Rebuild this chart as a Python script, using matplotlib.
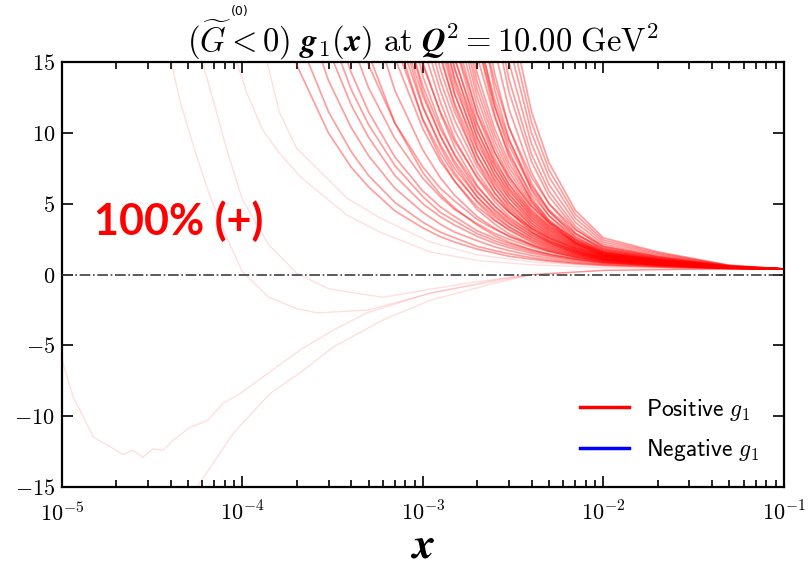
import numpy as np
import matplotlib
matplotlib.use("Agg")
import matplotlib.pyplot as plt
from matplotlib.lines import Line2D
from matplotlib.ticker import FuncFormatter, LogLocator, MultipleLocator, NullFormatter

plt.rcParams['mathtext.fontset'] = 'cm'

# shared x grid for the main bundle of replicas
x_grid = [1e-4, 2e-4, 3e-4, 4e-4, 5e-4, 7e-4, 1e-3, 1.25e-3, 1.5e-3, 2e-3, 2.5e-3,
          3e-3, 4e-3, 5e-3, 7e-3, 1e-2, 2e-2, 5e-2, 1e-1]

# g1(x) replicas (values above 15 leave the frame)
g1_replicas = [
    [29.3, 14.8, 10.0, 7.6, 6.2, 4.5, 3.3, 2.68, 2.3, 1.8, 1.53, 1.3, 1.09, 0.95, 0.78, 0.66, 0.54, 0.43, 0.40],
    [33.7, 17.0, 11.5, 8.7, 7.0, 5.1, 3.7, 3.0, 2.6, 2.0, 1.70, 1.48, 1.20, 1.03, 0.84, 0.70, 0.57, 0.44, 0.40],
    [40.4, 20.3, 13.7, 10.4, 8.4, 6.1, 4.4, 3.56, 3.0, 2.4, 1.96, 1.7, 1.36, 1.16, 0.93, 0.76, 0.60, 0.44, 0.40],
    [47.0, 23.7, 15.9, 12.0, 9.7, 7.0, 5.0, 4.09, 3.5, 2.7, 2.22, 1.9, 1.52, 1.29, 1.02, 0.82, 0.63, 0.45, 0.40],
    [51.5, 25.9, 17.4, 13.1, 10.6, 7.7, 5.5, 4.4, 3.8, 2.9, 2.39, 2.05, 1.63, 1.37, 1.08, 0.86, 0.65, 0.46, 0.40],
    [55.9, 28.1, 18.9, 14.3, 11.5, 8.3, 5.9, 4.79, 4.1, 3.1, 2.57, 2.2, 1.74, 1.46, 1.14, 0.90, 0.68, 0.46, 0.40],
    [64.8, 32.5, 21.8, 16.5, 13.2, 9.6, 6.8, 5.49, 4.6, 3.6, 2.91, 2.5, 1.95, 1.62, 1.26, 0.98, 0.72, 0.47, 0.40],
    [72.6, 36.4, 24.4, 18.4, 14.8, 10.7, 7.6, 6.1, 5.2, 3.9, 3.21, 2.73, 2.14, 1.77, 1.36, 1.05, 0.76, 0.48, 0.40],
    [97.0, 44.0, 27.7, 20.0, 15.6, 10.7, 7.2, 5.67, 4.7, 3.5, 2.76, 2.3, 1.76, 1.44, 1.10, 0.85, 0.65, 0.45, 0.40],
    [118, 53.7, 33.8, 24.4, 18.9, 13.0, 8.8, 6.84, 5.6, 4.1, 3.28, 2.7, 2.06, 1.67, 1.25, 0.95, 0.70, 0.47, 0.40],
    [140, 63.4, 39.9, 28.7, 22.3, 15.3, 10.3, 8.0, 6.6, 4.8, 3.81, 3.2, 2.36, 1.90, 1.41, 1.05, 0.76, 0.48, 0.40],
    [151, 68.2, 42.9, 30.9, 24.0, 16.4, 11.0, 8.6, 7.0, 5.2, 4.07, 3.36, 2.51, 2.02, 1.49, 1.10, 0.79, 0.48, 0.40],
    [161, 73.1, 45.9, 33.1, 25.7, 17.6, 11.8, 9.2, 7.5, 5.5, 4.33, 3.6, 2.67, 2.13, 1.56, 1.15, 0.81, 0.49, 0.40],
    [172, 77.9, 49.0, 35.3, 27.4, 18.7, 12.6, 9.8, 8.0, 5.8, 4.59, 3.78, 2.82, 2.25, 1.64, 1.20, 0.84, 0.50, 0.40],
    [183, 82.8, 52.0, 37.5, 29.0, 19.9, 13.3, 10.3, 8.5, 6.2, 4.85, 4.0, 2.97, 2.36, 1.72, 1.25, 0.87, 0.50, 0.40],
    [205, 92.5, 58.1, 41.8, 32.4, 22.2, 14.8, 11.5, 9.4, 6.9, 5.38, 4.42, 3.27, 2.59, 1.87, 1.35, 0.92, 0.51, 0.40],
    [209, 85.4, 50.4, 34.9, 26.2, 17.1, 10.9, 8.25, 6.6, 4.6, 3.57, 2.9, 2.11, 1.67, 1.21, 0.90, 0.68, 0.46, 0.40],
    [230, 93.9, 55.4, 38.4, 28.8, 18.7, 11.9, 9.0, 7.2, 5.1, 3.88, 3.14, 2.28, 1.80, 1.29, 0.95, 0.70, 0.47, 0.40],
    [251, 102, 60.4, 41.8, 31.4, 20.4, 12.9, 9.8, 7.8, 5.5, 4.2, 3.4, 2.45, 1.92, 1.37, 1.00, 0.73, 0.47, 0.40],
    [272, 111, 65.4, 45.3, 33.9, 22.0, 14.0, 10.6, 8.4, 5.9, 4.51, 3.64, 2.62, 2.05, 1.45, 1.05, 0.76, 0.48, 0.40],
    [293, 119, 70.4, 48.7, 36.5, 23.7, 15.0, 11.4, 9.0, 6.3, 4.83, 3.9, 2.79, 2.18, 1.53, 1.10, 0.79, 0.48, 0.40],
    [314, 128, 75.4, 52.2, 39.1, 25.4, 16.1, 12.2, 9.6, 6.8, 5.15, 4.14, 2.96, 2.31, 1.62, 1.15, 0.81, 0.49, 0.40],
    [334, 136, 80.4, 55.6, 41.7, 27.0, 17.1, 13.0, 10.2, 7.2, 5.46, 4.4, 3.13, 2.43, 1.70, 1.20, 0.84, 0.50, 0.40],
    [355, 145, 85.4, 59.1, 44.3, 28.7, 18.2, 13.7, 10.9, 7.6, 5.78, 4.63, 3.30, 2.56, 1.78, 1.25, 0.87, 0.50, 0.40],
    [376, 153, 90.4, 62.5, 46.8, 30.4, 19.2, 14.5, 11.5, 8.0, 6.1, 4.9, 3.47, 2.69, 1.86, 1.30, 0.90, 0.51, 0.40],
    [397, 162, 95.4, 66.0, 49.4, 32.0, 20.3, 15.3, 12.1, 8.4, 6.4, 5.1, 3.64, 2.81, 1.94, 1.35, 0.92, 0.51, 0.40],
    [418, 170, 100, 69.4, 52.0, 33.7, 21.3, 16.1, 12.7, 8.9, 6.73, 5.4, 3.81, 2.94, 2.02, 1.40, 0.95, 0.52, 0.40],
    [439, 179, 105, 72.9, 54.6, 35.4, 22.3, 16.9, 13.3, 9.3, 7.05, 5.63, 3.98, 3.07, 2.10, 1.45, 0.98, 0.53, 0.40],
    [460, 187, 110, 76.3, 57.2, 37.0, 23.4, 17.7, 13.9, 9.7, 7.36, 5.9, 4.15, 3.19, 2.18, 1.50, 1.01, 0.53, 0.40],
    [481, 196, 115, 79.8, 59.7, 38.7, 24.4, 18.5, 14.5, 10.1, 7.68, 6.13, 4.32, 3.32, 2.26, 1.55, 1.03, 0.54, 0.40],
    [502, 204, 120, 83.2, 62.3, 40.4, 25.5, 19.2, 15.2, 10.6, 8.0, 6.4, 4.49, 3.45, 2.34, 1.60, 1.06, 0.54, 0.40],
    [543, 221, 130, 90.1, 67.5, 43.7, 27.6, 20.8, 16.4, 11.4, 8.63, 6.87, 4.83, 3.70, 2.51, 1.70, 1.12, 0.56, 0.40],
    [671, 237, 129, 84.3, 60.5, 36.7, 21.6, 15.6, 11.9, 7.9, 5.76, 4.5, 3.03, 2.28, 1.52, 1.05, 0.76, 0.48, 0.40],
    [723, 256, 139, 90.7, 65.1, 39.5, 23.2, 16.8, 12.8, 8.45, 6.17, 4.78, 3.24, 2.42, 1.61, 1.10, 0.79, 0.48, 0.40],
    [775, 274, 149, 97.2, 69.7, 42.3, 24.9, 17.95, 13.7, 9.0, 6.58, 5.1, 3.44, 2.57, 1.70, 1.15, 0.81, 0.49, 0.40],
    [826, 292, 159, 103, 74.3, 45.1, 26.5, 19.1, 14.6, 9.6, 6.99, 5.41, 3.64, 2.71, 1.78, 1.20, 0.84, 0.50, 0.40],
    [878, 310, 169, 110, 78.9, 47.9, 28.1, 20.3, 15.4, 10.2, 7.4, 5.7, 3.84, 2.86, 1.87, 1.25, 0.87, 0.50, 0.40],
    [930, 329, 179, 116, 83.6, 50.7, 29.7, 21.5, 16.3, 10.75, 7.82, 6.03, 4.05, 3.00, 1.96, 1.30, 0.90, 0.51, 0.40],
    [981, 347, 189, 123, 88.2, 53.5, 31.4, 22.6, 17.2, 11.3, 8.23, 6.35, 4.25, 3.15, 2.04, 1.35, 0.92, 0.51, 0.40],
    [1033, 365, 199, 129, 92.8, 56.3, 33.0, 23.8, 18.1, 11.9, 8.64, 6.7, 4.45, 3.29, 2.13, 1.40, 0.95, 0.52, 0.40],
    [1085, 383, 209, 135, 97.4, 59.1, 34.6, 25.0, 19.0, 12.5, 9.05, 6.97, 4.65, 3.43, 2.22, 1.45, 0.98, 0.53, 0.40],
    [1136, 402, 219, 142, 102, 61.9, 36.3, 26.1, 19.9, 13.05, 9.46, 7.29, 4.86, 3.58, 2.30, 1.50, 1.01, 0.53, 0.40],
    [1188, 420, 229, 148, 106, 64.7, 37.9, 27.3, 20.8, 13.6, 9.88, 7.6, 5.06, 3.72, 2.39, 1.55, 1.03, 0.54, 0.40],
    [1240, 438, 239, 155, 111, 67.5, 39.5, 28.5, 21.6, 14.2, 10.3, 7.91, 5.26, 3.87, 2.48, 1.60, 1.06, 0.54, 0.40],
    [1343, 475, 259, 168, 120, 73.1, 42.8, 30.8, 23.4, 15.4, 11.1, 8.5, 5.67, 4.16, 2.65, 1.70, 1.12, 0.56, 0.40],
    [1446, 511, 279, 181, 129, 78.7, 46.0, 33.2, 25.2, 16.5, 11.9, 9.16, 6.07, 4.45, 2.82, 1.80, 1.17, 0.57, 0.40],
    [1498, 529, 289, 187, 134, 81.5, 47.7, 34.3, 26.1, 17.1, 12.35, 9.5, 6.27, 4.59, 2.91, 1.85, 1.20, 0.57, 0.40],
    [1653, 584, 318, 206, 148, 89.8, 52.6, 37.8, 28.7, 18.8, 13.6, 10.4, 6.88, 5.02, 3.17, 2.00, 1.28, 0.59, 0.40],
    [3064, 910, 447, 270, 183, 102, 54.8, 37.2, 27.2, 16.6, 11.3, 8.3, 5.2, 3.64, 2.19, 1.35, 0.92, 0.51, 0.40],
    [3225, 958, 471, 284, 193, 107, 57.7, 39.1, 28.6, 17.4, 11.9, 8.75, 5.45, 3.81, 2.28, 1.40, 0.95, 0.52, 0.40],
    [3548, 1054, 518, 312, 212, 118, 63.4, 43.0, 31.4, 19.1, 13.05, 9.6, 5.96, 4.15, 2.47, 1.50, 1.01, 0.53, 0.40],
    [3870, 1150, 565, 341, 232, 128, 69.2, 46.8, 34.2, 20.8, 14.2, 10.4, 6.46, 4.49, 2.66, 1.60, 1.06, 0.54, 0.40],
    [4354, 1293, 636, 383, 261, 145, 77.8, 52.6, 38.5, 23.4, 15.9, 11.7, 7.2, 5.0, 2.94, 1.75, 1.14, 0.56, 0.40],
    [4838, 1437, 707, 426, 290, 161, 86.4, 58.5, 42.7, 25.9, 17.7, 12.9, 7.98, 5.52, 3.22, 1.90, 1.23, 0.58, 0.40],
    [5160, 1533, 754, 454, 309, 172, 92.1, 62.3, 45.5, 27.6, 18.8, 13.8, 8.5, 5.9, 3.41, 2.00, 1.28, 0.59, 0.40],
    [5644, 1677, 824, 497, 338, 188, 100, 68.1, 49.8, 30.2, 20.5, 15.0, 9.24, 6.37, 3.69, 2.15, 1.36, 0.61, 0.40],
    [6128, 1820, 895, 540, 367, 204, 109, 73.9, 54.0, 32.7, 22.3, 16.3, 10.0, 6.9, 3.97, 2.30, 1.45, 0.63, 0.40],
    [6611, 1964, 966, 582, 396, 220, 118, 79.7, 58.2, 35.3, 24.0, 17.5, 10.75, 7.39, 4.25, 2.45, 1.53, 0.65, 0.40],
    [7095, 2108, 1036, 625, 425, 236, 126, 85.5, 62.4, 37.8, 25.7, 18.8, 11.5, 7.9, 4.54, 2.60, 1.61, 0.66, 0.40],
]

# the few stray replicas on the small-x side
xa = [3.8e-5, 4.5e-5, 5.5e-5, 6.5e-5, 8e-5, 1e-4, 1.4e-4, 2e-4, 2.6e-4, 5e-4, 1.1e-3, 2.7e-3, 4e-3, 1e-2, 3e-2, 1e-1]
ya = [16.5, 12.3, 8.6, 5.8, 2.9, 0.2, -1.6, -2.4, -2.7, -2.5, -1.3, -0.4, 0.0, 0.3, 0.38, 0.4]
xb = [5.7e-5, 6e-5, 7e-5, 8.2e-5, 1e-4, 1.4e-4, 2e-4, 3e-4, 6e-4, 1.75e-3, 4e-3, 1e-2, 3e-2, 1e-1]
yb = [17, 15, 12.0, 8.8, 5.3, 2.1, 0.1, -1.0, -1.6, -0.6, 0.0, 0.3, 0.38, 0.4]
xe = [8.8e-5, 9.3e-5, 1.06e-4, 1.3e-4, 1.6e-4, 2.1e-4, 2.5e-4, 3.8e-4, 5.8e-4, 1.1e-3, 2e-3, 4e-3, 1e-2, 3e-2, 1e-1]
ye = [17, 15, 12.8, 10.2, 8.6, 6.9, 6.1, 4.2, 3.0, 1.6, 1.0, 0.7, 0.5, 0.42, 0.4]
xf = [1.3e-4, 1.37e-4, 1.6e-4, 2e-4, 2.5e-4, 3.8e-4, 5.8e-4, 1.1e-3, 2e-3, 4e-3, 1e-2, 3e-2, 1e-1]
yf = [16.5, 15, 11.5, 8.9, 7.7, 5.4, 4.0, 2.3, 1.4, 0.9, 0.6, 0.45, 0.4]
xc = [1e-5, 1.15e-5, 1.5e-5, 1.77e-5, 2.18e-5, 2.47e-5, 2.81e-5, 3.19e-5, 3.63e-5, 4.12e-5, 5.1e-5,
      6.4e-5, 7.8e-5, 9.7e-5, 1.48e-4, 2.1e-4, 3.2e-4, 4.9e-4, 1.1e-3, 2.7e-3, 4e-3, 1e-2, 3e-2, 1e-1]
yc = [-6.0, -8.6, -11.5, -12.0, -12.7, -12.4, -12.9, -12.3, -12.4, -11.7, -10.8,
      -10.3, -9.1, -8.4, -6.7, -5.3, -3.9, -2.7, -1.3, -0.3, 0.0, 0.3, 0.38, 0.4]
xd = [5.2e-5, 5.6e-5, 6.9e-5, 8.9e-5, 1.42e-4, 2.1e-4, 3.2e-4, 6e-4, 1.1e-3, 2.7e-3, 4e-3, 1e-2, 3e-2, 1e-1]
yd = [-16, -15, -13.3, -11.2, -8.4, -6.9, -5.1, -3.2, -1.8, -0.5, 0.0, 0.3, 0.38, 0.4]
strays = [(xa, ya), (xb, yb), (xe, ye), (xf, yf), (xc, yc), (xd, yd)]

fig = plt.figure(figsize=(8.08, 5.71), dpi=100)
ax = fig.add_axes([0.0767, 0.147, 0.8933, 0.744])

for ys in g1_replicas:
    ax.plot(x_grid, ys, color='red', alpha=0.38, lw=1.25)
for xs, ys in strays:
    ax.plot(xs, ys, color='red', alpha=0.13, lw=1.0)

ax.axhline(0, color='0.25', ls='-.', lw=1.2, zorder=5)

ax.set_xscale('log')
ax.set_xlim(1e-5, 1e-1)
ax.set_ylim(-15, 15)
ax.yaxis.set_major_locator(MultipleLocator(5))
ax.xaxis.set_major_locator(LogLocator(base=10, numticks=10))
ax.xaxis.set_minor_locator(LogLocator(base=10, subs=np.arange(2, 10), numticks=50))
ax.xaxis.set_minor_formatter(NullFormatter())
ax.xaxis.set_major_formatter(FuncFormatter(lambda v, p: r'$10^{%d}$' % round(np.log10(v))))
ax.yaxis.set_major_formatter(FuncFormatter(lambda v, p: r'$%d$' % v))
ax.tick_params(which='both', direction='in', top=True, right=True, labelsize=16, width=1.2)
ax.tick_params(which='major', length=8)
ax.tick_params(which='minor', length=5)
ax.tick_params(axis='x', which='major', pad=10)
ax.tick_params(axis='y', which='major', pad=5)
for s in ax.spines.values():
    s.set_linewidth(1.6)

ax.set_xlabel(r'$\boldsymbol{x}$', fontsize=32)
ax.xaxis.set_label_coords(0.5, -0.085)
ax.set_title(r'$(\widetilde{G} < 0)\ \boldsymbol{g}_1(\boldsymbol{x})\ \mathrm{at}\ \boldsymbol{Q}^2 = 10.00\ \mathrm{GeV}^2$',
             fontsize=23.5, pad=7)
fig.text(0.297, 0.979, '(0)', fontsize=9, ha='center', va='center', family='DejaVu Sans')

ax.text(0.045, 0.625, '100% (+)', transform=ax.transAxes, color='red', fontsize=31,
        fontweight='bold', family='Lato', va='center')

handles = [Line2D([], [], color='red', lw=2.5), Line2D([], [], color='blue', lw=2.5)]
ax.legend(handles, [r'$\mathsf{Positive}\ g_1$', r'$\mathsf{Negative}\ g_1$'], loc='lower right',
          frameon=False, fontsize=17, handlelength=2.1, handletextpad=0.7, labelspacing=0.6,
          bbox_to_anchor=(0.995, 0.007))

fig.savefig('out.png', dpi=100)
